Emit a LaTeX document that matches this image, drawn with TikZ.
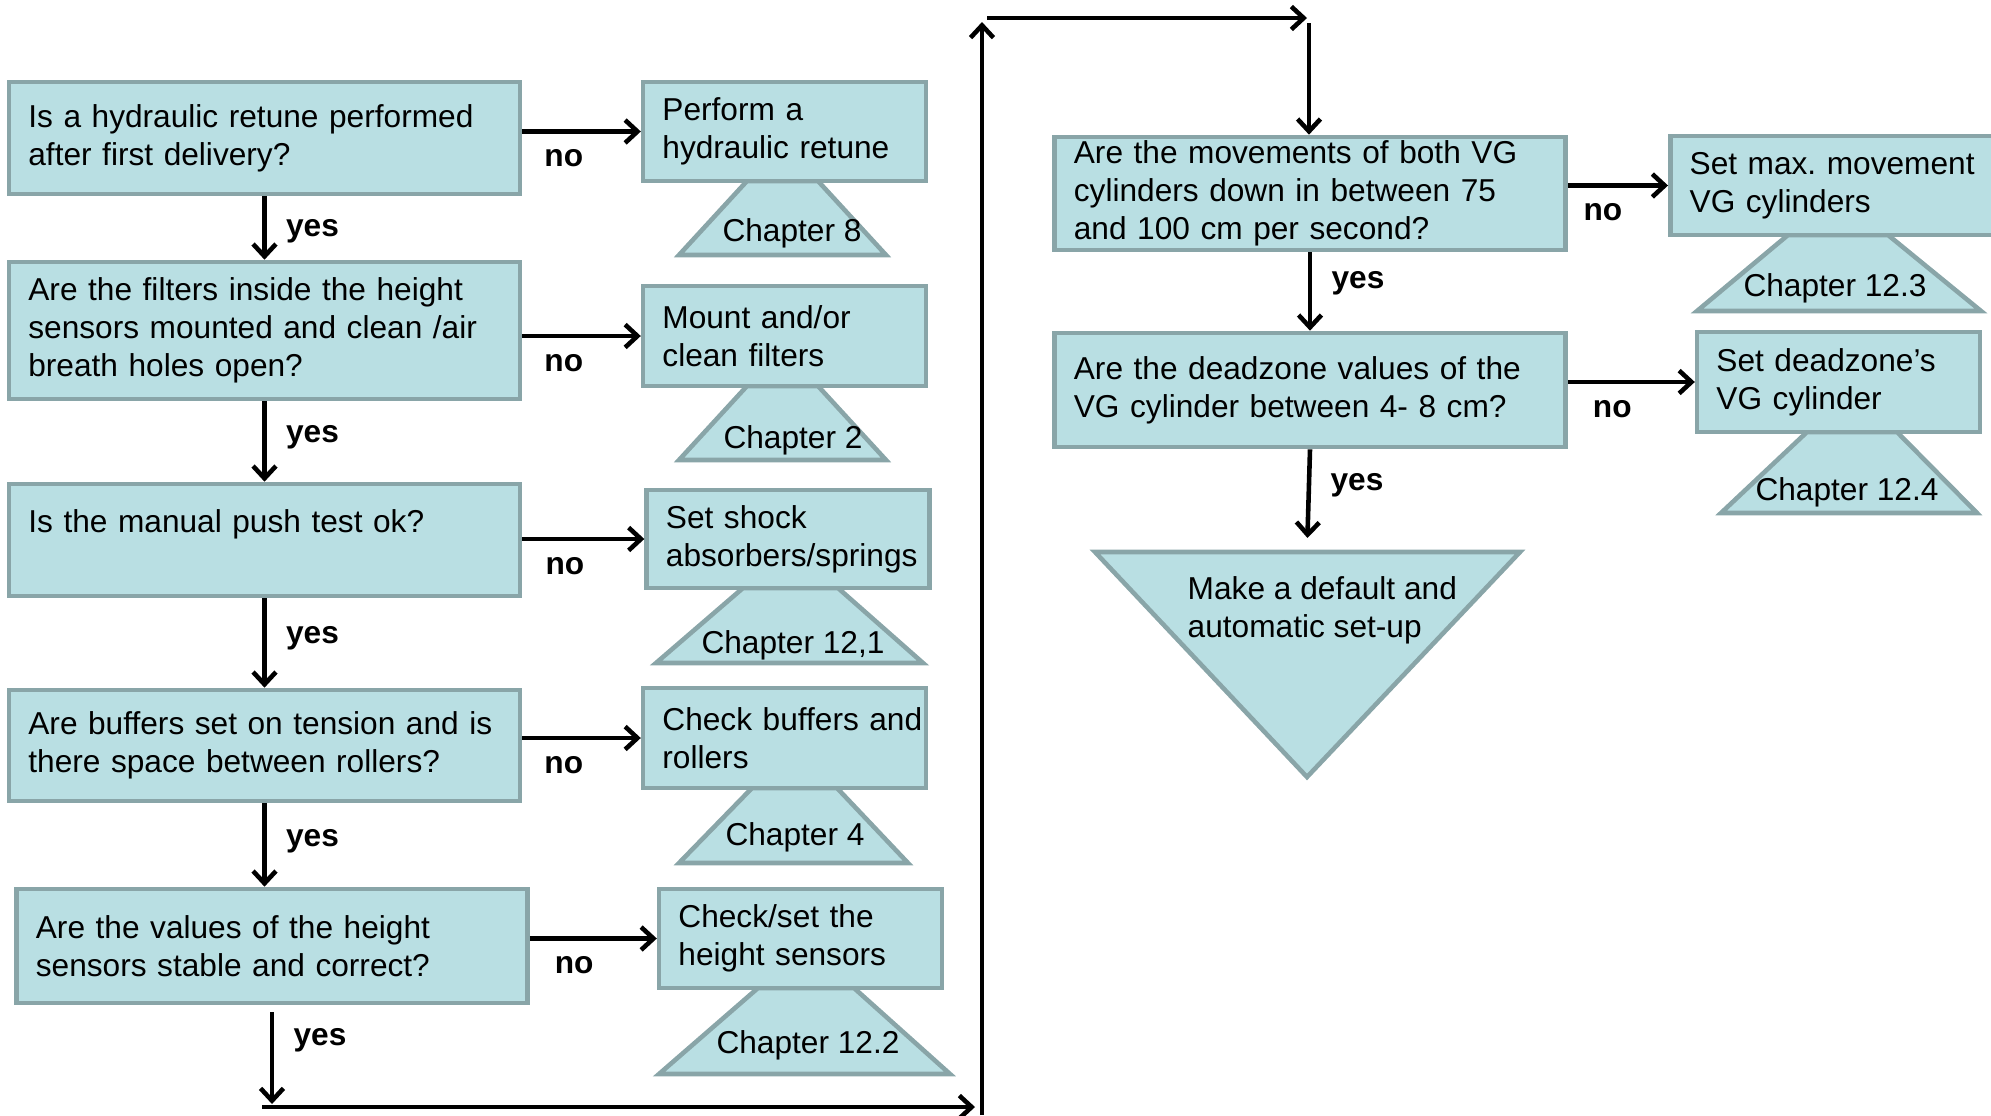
\documentclass[tikz,border=0pt]{standalone}
\usepackage{fontspec}
\setmainfont{Liberation Sans}
\usetikzlibrary{arrows.meta}
\definecolor{boxfill}{RGB}{185,223,227}
\definecolor{boxline}{RGB}{137,165,168}

\begin{document}
\begin{tikzpicture}[x=0.01cm, y=-0.01cm,
    font=\fontsize{9}{10.8}\selectfont\frenchspacing,
    box/.style={draw=boxline, fill=boxfill, line width=1.3pt},
    question/.style={box, text width=4.72cm, align=left, inner xsep=5.5pt, inner ysep=0.5pt},
    action/.style={box, text width=2.44cm, align=left, inner xsep=5.5pt, inner ysep=0.5pt},
    flow/.style={-{Straight Barb[length=3.5pt,width=6.5pt]}, line width=1.3pt},
    lbl/.style={font=\fontsize{9}{10.8}\selectfont\bfseries, inner sep=0pt}]
  \useasboundingbox (0,0) rectangle (1991,1115);
  \clip (0,0) rectangle (1991,1115);
  % Chapter triangles (behind the boxes)
  \foreach \xa/\xb/\ya/\xc/\xd/\yb in
    {747/818/181/679/886/255, 747/818/386/679/886/460,
     743/838/588/656/923/663, 752/837/788/679/908/863,
     758/854/988/659/950/1074, 1788/1888/235/1697/1981/311,
     1807/1897/432/1721/1977/513}
    \draw[box] (\xa,\ya) -- (\xb,\ya) -- (\xd,\yb) -- (\xc,\yb) -- cycle;
  \foreach \point/\name/\txt in
    {(792,233)/ch1/Chapter 8, (793,440)/ch2/Chapter 2,
     (793,645)/ch3/{Chapter 12,1}, (795,837)/ch4/Chapter 4,
     (808,1045)/ch5/Chapter 12.2, (1835,288)/ch6/Chapter 12.3,
     (1847,492)/ch7/Chapter 12.4}
    \node[inner sep=0pt] (\name) at \point {\txt};
  % Questions
  \node[question, minimum height=1.12cm] (q1) at (264.5,138) {Is a hydraulic retune performed\\after first delivery?};
  \node[question, minimum height=1.37cm] (q2) at (264.5,330.5) {Are the filters inside the height\\sensors mounted and clean /air\\breath holes open?};
  \node[question, minimum height=1.12cm] (q3) at (264.5,540) {Is the manual push test ok?\\\mbox{}};
  \node[question, minimum height=1.11cm] (q4) at (264.5,745.5) {Are buffers set on tension and is\\there space between rollers?};
  \node[question, minimum height=1.14cm] (q5) at (272,946) {Are the values of the height\\sensors stable and correct?};
  \node[question, minimum height=1.13cm] (q6) at (1310,193.5) {Are the movements of both VG\\cylinders down in between 75\\and 100 cm per second?};
  \node[question, minimum height=1.14cm] (q7) at (1310,390) {Are the deadzone values of the\\VG cylinder between 4- 8 cm?};
  % Actions
  \node[action, minimum height=0.99cm] (a1) at (784.5,131.5) {Perform a\\hydraulic retune};
  \node[action, minimum height=1.00cm] (a2) at (784.5,336) {Mount and/or\\clean filters};
  \node[action, minimum height=0.98cm] (a3) at (788,539) {Set shock\\absorbers/springs};
  \node[action, minimum height=1.00cm] (a4) at (784.5,738) {\mbox{Check buffers and}\\rollers};
  \node[action, minimum height=0.99cm] (a5) at (800.5,938.5) {Check/set the\\height sensors};
  \node[action, minimum height=0.99cm, text width=3.2cm, anchor=west] (a6) at (1668,185.5) {Set max. movement\\VG cylinders};
  \node[action, minimum height=1.00cm] (a7) at (1838.5,382) {Set deadzone’s\\VG cylinder};
  % End
  \draw[box] (1095,552) -- (1520,552) -- (1307,777) -- cycle;
  \coordinate (setuptop) at (1307,552);
  \node[align=left, anchor=west, inner sep=0pt] (setup) at (1187,610) {Make a default and\\automatic set-up};
  % no branches
  \foreach \q/\a in {q1/a1, q2/a2, q3/a3, q4/a4, q5/a5, q6/a6, q7/a7}
    \draw[flow] (\q.east |- \a.west) -- node[lbl, pos=0.35, below=4.5pt] {no} (\a.west);
  % yes branches
  \foreach \s/\t/\p in {q1/q2/0.55, q2/q3/0.45, q3/q4/0.45, q6/q7/0.4}
    \draw[flow] (\s.south) -- node[lbl, pos=\p, right=5.5pt] {yes} (\t.north);
  \draw[flow] (q4.south) -- node[lbl, pos=0.45, right=5.5pt] {yes} (q4.south |- q5.north);
  \draw[flow, shorten >=4pt] (q7.south) -- node[lbl, pos=0.35, right=5.5pt] {yes} (setuptop);
  \coordinate (yesend) at (272,1104);
  \draw[flow, shorten <=2pt] (q5.south) -- node[lbl, pos=0.35, right=5.5pt] {yes} (yesend);
  % loop to the second column
  \coordinate (loopa) at (262,1107);
  \coordinate (loopb) at (975,1107);
  \coordinate (loopc) at (982,1115);
  \coordinate (loopd) at (982,22);
  \coordinate (loope) at (987,18);
  \coordinate (loopf) at (1307,18);
  \coordinate (loopg) at (1309,23);
  \draw[flow] (loopa) -- (loopb);
  \draw[flow] (loopc) -- (loopd);
  \draw[flow] (loope) -- (loopf);
  \draw[flow] (loopg) -- (loopg |- q6.north);
\end{tikzpicture}
\end{document}
